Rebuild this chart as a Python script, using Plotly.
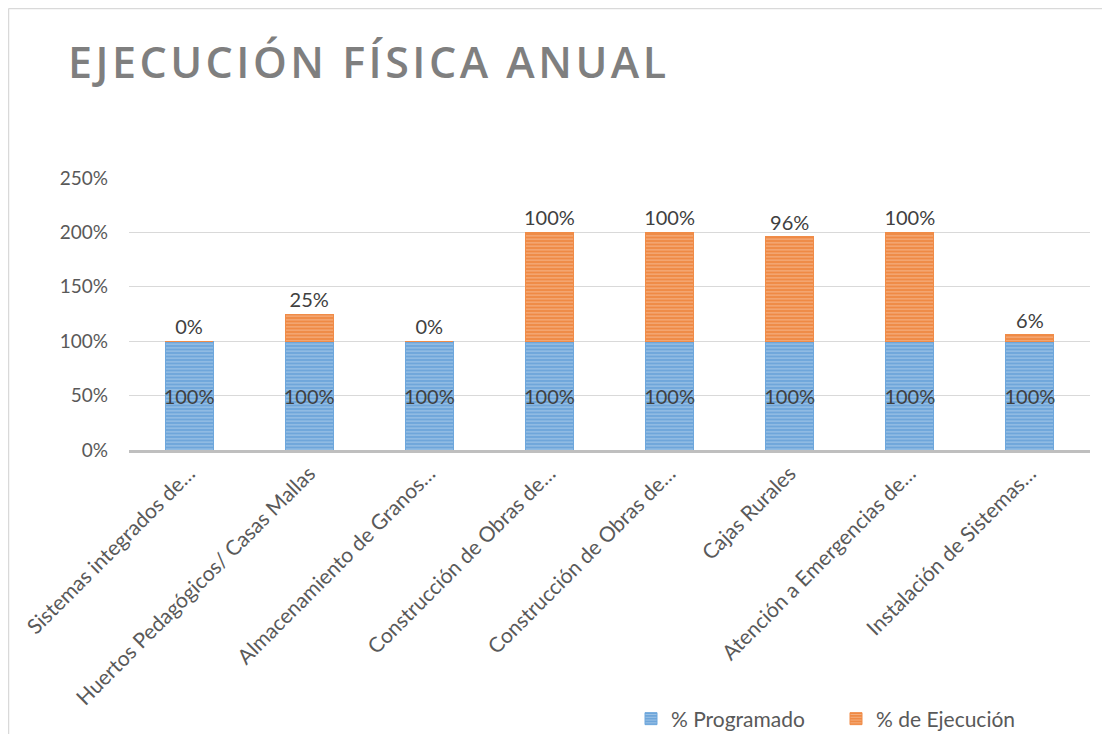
import plotly.graph_objects as go

categories = [
    "Sistemas integrados de…",
    "Huertos Pedagógicos/ Casas Mallas",
    "Almacenamiento de Granos…",
    "Construcción de Obras de…",
    "Construcción de Obras de…",
    "Cajas Rurales",
    "Atención a Emergencias de…",
    "Instalación de Sistemas…",
]
programado = [1.00, 1.00, 1.00, 1.00, 1.00, 1.00, 1.00, 1.00]
ejecucion = [0.00, 0.25, 0.00, 1.00, 1.00, 0.96, 1.00, 0.06]
ytick_vals = [0, 0.5, 1.0, 1.5, 2.0, 2.5]

x_idx = list(range(len(categories)))

OFF = 8  # default page body margin
W, H = 1110 - 2 * OFF, 742 - 2 * OFF
L = 129 - OFF
T = 178 - OFF
R = W + OFF - 1090
B = H - (450 - OFF)
pw, ph = W - L - R, H - T - B

def px_x(x):
    return (x - OFF - L) / pw

def px_y(y):
    return (H - B - (y - OFF)) / ph

font_main = "Lato, 'Open Sans', sans-serif"
gray_text = "#595959"

fig = go.Figure()
fig.add_trace(go.Bar(
    x=x_idx, y=programado, name="% Programado",
    marker=dict(color="#5b9bd5", line=dict(color="#6ea7dc", width=1),
                pattern=dict(shape="-", fgcolor="#cfe1f3", bgcolor="#6fa6da",
                             size=3.5, solidity=0.35)),
    texttemplate="%{y:.0%}", textposition="inside", insidetextanchor="middle",
    textangle=0,
    textfont=dict(family=font_main, size=20, color="#404040"),
    constraintext="none",
))
fig.add_trace(go.Bar(
    x=x_idx, y=ejecucion, name="% de Ejecución",
    marker=dict(color="#ed7d31", line=dict(color="#f08c48", width=1),
                pattern=dict(shape="-", fgcolor="#fad7bf", bgcolor="#ef8a45",
                             size=3.5, solidity=0.35)),
    texttemplate="%{y:.0%}", textposition="outside", textangle=0,
    textfont=dict(family=font_main, size=20, color="#404040"),
    constraintext="none", cliponaxis=False,
))

fig.update_layout(
    width=W, height=H,
    margin=dict(l=L, r=R, t=T, b=B, autoexpand=False),
    paper_bgcolor="white", plot_bgcolor="white",
    barmode="stack", bargap=0.6,
    font=dict(family=font_main, color=gray_text),
    showlegend=True,
    legend=dict(orientation="h", x=px_x(631), y=px_y(719), xanchor="left", yanchor="middle",
                font=dict(family=font_main, size=21, color=gray_text),
                itemwidth=30, entrywidth=160, traceorder="normal"),
)
fig.update_xaxes(
    range=[-0.5, len(categories) - 0.5],
    tickmode="array", tickvals=x_idx, ticktext=categories,
    tickangle=-45, tickfont=dict(family=font_main, size=21, color=gray_text),
    showline=True, linecolor="#bfbfbf", linewidth=3, showgrid=False,
    ticks="", automargin=False,
)
fig.update_yaxes(
    range=[0, 2.5], tickmode="array", tickvals=ytick_vals, tickformat=".0%",
    tickfont=dict(family=font_main, size=19, color=gray_text),
    showgrid=True, gridcolor="#d9d9d9", gridwidth=1, zeroline=False,
    ticklabelstandoff=20, automargin=False,
)

fig.add_annotation(
    text='<span style="letter-spacing:3.5px">EJECUCIÓN FÍSICA ANUAL</span>',
    xref="paper", yref="paper",
    x=px_x(66), y=px_y(62), xanchor="left", yanchor="middle", showarrow=False,
    font=dict(family="'Open Sans', sans-serif", size=43, color="#7f7f7f", weight=600),
)
# chart-area frame: only the left and top edges are visible in the reference
fig.add_shape(
    type="line", xref="paper", yref="paper",
    x0=px_x(8.5), x1=px_x(8.5), y0=px_y(8.5), y1=px_y(760),
    line=dict(color="#d9d9d9", width=1.5), layer="below",
)
fig.add_shape(
    type="line", xref="paper", yref="paper",
    x0=px_x(8.5), x1=px_x(1130), y0=px_y(8.5), y1=px_y(8.5),
    line=dict(color="#d9d9d9", width=1.5), layer="below",
)

fig.write_html("out.html")
